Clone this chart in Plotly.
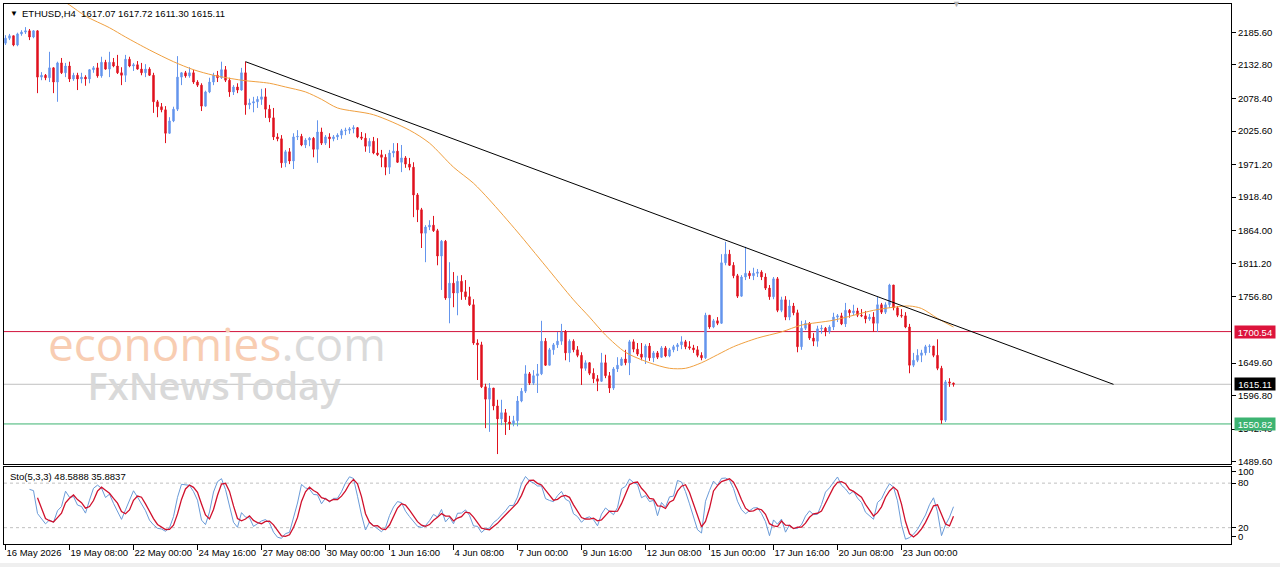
import pandas as pd
import plotly.graph_objects as go

# ---------------- data (ETHUSD H4) ----------------
first_open = 2168
close = [2176, 2180, 2165, 2183, 2186, 2188, 2178, 2188, 2113, 2116,
         2112, 2128, 2105, 2136, 2120, 2131, 2110, 2116, 2110, 2113,
         2110, 2125, 2128, 2115, 2137, 2126, 2137, 2131, 2120, 2116,
         2142, 2131, 2133, 2126, 2120, 2126, 2116, 2073, 2065, 2060,
         2022, 2042, 2061, 2113, 2120, 2115, 2120, 2105, 2100, 2066,
         2089, 2105, 2116, 2112, 2125, 2108, 2089, 2097, 2092, 2120,
         2068, 2071, 2073, 2077, 2081, 2061, 2047, 2016, 2013, 1974,
         1992, 1977, 2016, 2017, 2003, 2011, 2014, 1996, 2024, 2006,
         2016, 2013, 2016, 2019, 2026, 2027, 2029, 2031, 2016, 2014,
         2001, 2009, 1990, 1987, 1983, 1967, 1990, 1993, 1975, 1982,
         1972, 1967, 1922, 1898, 1860, 1870, 1873, 1864, 1823, 1847,
         1755, 1779, 1763, 1782, 1765, 1757, 1744, 1682, 1679, 1611,
         1591, 1609, 1580, 1559, 1569, 1554, 1551, 1556, 1588, 1604,
         1632, 1617, 1629, 1632, 1685, 1646, 1671, 1679, 1685, 1700,
         1666, 1685, 1671, 1662, 1641, 1650, 1633, 1624, 1620, 1650,
         1629, 1609, 1640, 1646, 1656, 1650, 1684, 1672, 1664, 1659,
         1677, 1658, 1666, 1659, 1674, 1661, 1671, 1676, 1679, 1684,
         1676, 1674, 1671, 1662, 1658, 1727, 1708, 1718, 1714, 1812,
         1826, 1808, 1791, 1758, 1789, 1795, 1791, 1795, 1797, 1789,
         1771, 1757, 1786, 1735, 1752, 1724, 1742, 1731, 1676, 1706,
         1714, 1690, 1685, 1705, 1706, 1701, 1708, 1724, 1726, 1713,
         1735, 1731, 1734, 1727, 1726, 1721, 1724, 1714, 1744, 1732,
         1744, 1776, 1739, 1727, 1726, 1708, 1646, 1654, 1662, 1666,
         1676, 1677, 1662, 1641, 1557, 1619, 1617.07, 1615.11]
high = [2181, 2183, 2180, 2185, 2189, 2194, 2191, 2189, 2189, 2121,
        2118, 2154, 2129, 2138, 2144, 2136, 2138, 2120, 2120, 2120,
        2116, 2126, 2131, 2136, 2146, 2141, 2154, 2144, 2149, 2129,
        2149, 2146, 2136, 2139, 2136, 2134, 2129, 2120, 2076, 2071,
        2066, 2048, 2065, 2147, 2121, 2123, 2129, 2125, 2108, 2103,
        2091, 2112, 2120, 2123, 2138, 2131, 2112, 2100, 2103, 2128,
        2138, 2078, 2081, 2082, 2094, 2095, 2068, 2063, 2022, 2019,
        1995, 1998, 2022, 2027, 2021, 2014, 2016, 2016, 2043, 2031,
        2019, 2022, 2019, 2022, 2029, 2031, 2032, 2035, 2032, 2024,
        2022, 2014, 2016, 2014, 1995, 1988, 1995, 2006, 2006, 2003,
        1985, 1982, 1975, 1925, 1901, 1873, 1881, 1888, 1867, 1849,
        1849, 1813, 1797, 1791, 1792, 1784, 1773, 1753, 1688, 1684,
        1616, 1617, 1607, 1590, 1590, 1575, 1564, 1564, 1596, 1609,
        1646, 1635, 1638, 1648, 1718, 1690, 1674, 1682, 1700, 1713,
        1703, 1688, 1688, 1677, 1667, 1654, 1651, 1641, 1630, 1666,
        1663, 1635, 1643, 1659, 1659, 1671, 1687, 1688, 1682, 1682,
        1680, 1682, 1669, 1669, 1677, 1677, 1674, 1679, 1682, 1693,
        1687, 1685, 1679, 1677, 1667, 1731, 1727, 1721, 1724, 1826,
        1846, 1833, 1813, 1794, 1792, 1838, 1799, 1804, 1802, 1800,
        1795, 1776, 1789, 1789, 1757, 1758, 1752, 1747, 1736, 1718,
        1719, 1716, 1698, 1710, 1711, 1708, 1711, 1731, 1729, 1731,
        1747, 1737, 1744, 1739, 1737, 1734, 1729, 1732, 1757, 1747,
        1748, 1778, 1776, 1742, 1737, 1732, 1713, 1666, 1672, 1671,
        1679, 1680, 1677, 1688, 1645, 1622, 1625, 1617.72]
low = [2165, 2173, 2163, 2163, 2180, 2183, 2173, 2176, 2087, 2108,
       2108, 2105, 2087, 2073, 2118, 2113, 2105, 2107, 2092, 2103,
       2099, 2103, 2120, 2112, 2112, 2125, 2113, 2129, 2118, 2100,
       2105, 2129, 2123, 2125, 2116, 2113, 2115, 2055, 2048, 2056,
       2006, 2021, 2040, 2058, 2100, 2112, 2112, 2102, 2097, 2058,
       2065, 2087, 2100, 2105, 2110, 2105, 2081, 2084, 2087, 2091,
       2052, 2061, 2056, 2063, 2068, 2047, 2040, 2011, 2009, 1966,
       1967, 1972, 1964, 2011, 2001, 1998, 2001, 1983, 1974, 2003,
       2003, 1998, 2009, 2011, 2013, 2019, 2021, 2022, 2014, 2011,
       1992, 1990, 1988, 1985, 1967, 1954, 1956, 1983, 1974, 1959,
       1966, 1962, 1886, 1878, 1836, 1813, 1865, 1862, 1808, 1768,
       1752, 1714, 1740, 1727, 1752, 1752, 1742, 1679, 1622, 1609,
       1544, 1538, 1573, 1502, 1549, 1533, 1541, 1547, 1547, 1586,
       1601, 1614, 1614, 1601, 1630, 1645, 1646, 1663, 1674, 1679,
       1654, 1651, 1667, 1659, 1614, 1637, 1630, 1617, 1604, 1619,
       1625, 1601, 1606, 1635, 1645, 1646, 1630, 1667, 1661, 1654,
       1648, 1653, 1651, 1656, 1658, 1659, 1659, 1667, 1669, 1672,
       1672, 1671, 1666, 1659, 1654, 1656, 1705, 1706, 1711, 1713,
       1808, 1807, 1787, 1755, 1757, 1784, 1786, 1784, 1789, 1784,
       1768, 1752, 1753, 1732, 1732, 1719, 1719, 1727, 1667, 1671,
       1703, 1687, 1677, 1676, 1697, 1693, 1697, 1703, 1716, 1711,
       1708, 1723, 1727, 1724, 1724, 1714, 1718, 1700, 1700, 1729,
       1729, 1739, 1735, 1724, 1723, 1706, 1633, 1643, 1651, 1651,
       1662, 1666, 1659, 1638, 1551, 1554, 1611, 1611.30]

# moving average (orange) read at sampled bars
ma_bars = [12, 16, 20, 26, 30, 36, 42, 47, 52, 59, 66, 70, 75, 79, 83, 92, 101, 106,
           112, 117, 121, 128, 135, 142, 146, 150, 155, 161, 166, 170, 174, 178, 182,
           188, 194, 199, 207, 217, 222, 226, 229, 233, 237]
ma_vals = [2246, 2230, 2212, 2193, 2178, 2157, 2138, 2125, 2116, 2108, 2103, 2097, 2089,
           2077, 2063, 2052, 2027, 2006, 1967, 1941, 1914, 1862, 1807, 1752, 1724, 1695,
           1667, 1650, 1641, 1641, 1650, 1663, 1676, 1690, 1700, 1711, 1719, 1735, 1740,
           1742, 1738, 1722, 1708]

# trend line anchors (bar index, price)
trend_bars = [60, 277]
trend_prices = [2138, 1615]

# horizontal levels
level_resist = 1700.54
level_bid = 1615.11
level_support = 1550.82

price_ticks = [2185.6, 2132.8, 2078.4, 2025.6, 1971.2, 1918.4, 1864.0, 1811.2,
               1756.8, 1649.6, 1596.8, 1542.4, 1489.6]
time_tick_bars = [0, 16, 32, 48, 64, 80, 96, 112, 128, 144, 160, 176, 192, 208, 224]
time_tick_labels = ["16 May 2026", "19 May 08:00", "22 May 00:00", "24 May 16:00",
                    "27 May 08:00", "30 May 00:00", "1 Jun 16:00", "4 Jun 08:00",
                    "7 Jun 00:00", "9 Jun 16:00", "12 Jun 08:00", "15 Jun 00:00",
                    "17 Jun 16:00", "20 Jun 08:00", "23 Jun 00:00"]
sto_labels = ["100", "80", "20", "0"]
sto_label_levels = [95.5, 80, 20, 7.5]   # where the terminal prints the scale labels

# ---------------- derived ----------------
n = len(close)
open_ = [first_open] + close[:-1]
high = [max(h, o, c) for h, o, c in zip(high, open_, close)]
low = [min(l, o, c) for l, o, c in zip(low, open_, close)]
bar = pd.Timedelta(hours=4)
t0 = pd.Timestamp("2026-05-16 16:00")
times = [t0 + i * bar for i in range(n)]

df = pd.DataFrame({"h": high, "l": low, "c": close})
ll = df.l.rolling(5).min()
hh = df.h.rolling(5).max()
k_line = 100 * (df.c - ll).rolling(3).sum() / (hh - ll).rolling(3).sum()
d_line = k_line.rolling(3).mean()

# ---------------- layout geometry ----------------
W, H = 1280, 567
L, R, T, B = 4, 49, 4, 23
PW, PH = W - L - R, H - T - B


def fx(px):
    return (px - L) / PW


def fy(py):
    return (H - B - py) / PH


FONT = "Liberation Sans"
BLUE = "#6495ED"
RED = "#E0121E"

fig = go.Figure()
fig.add_trace(go.Candlestick(
    x=times, open=open_, high=high, low=low, close=close,
    increasing=dict(line=dict(color=BLUE, width=1), fillcolor=BLUE),
    decreasing=dict(line=dict(color=RED, width=1), fillcolor=RED),
    whiskerwidth=0, showlegend=False, hoverinfo="skip",
    xaxis="x", yaxis="y"))
fig.add_trace(go.Scatter(
    x=[t0 + i * bar for i in ma_bars], y=ma_vals, mode="lines",
    line=dict(color="#F0A040", width=1, shape="spline", smoothing=0.8),
    showlegend=False, hoverinfo="skip", xaxis="x", yaxis="y"))
fig.add_trace(go.Scatter(
    x=times, y=k_line, mode="lines", line=dict(color="#6A9BD8", width=1),
    showlegend=False, hoverinfo="skip", xaxis="x2", yaxis="y2"))
fig.add_trace(go.Scatter(
    x=times, y=d_line, mode="lines", line=dict(color="#D0102C", width=1.3),
    showlegend=False, hoverinfo="skip", xaxis="x2", yaxis="y2"))

x_range = [t0 - 0.375 * bar, t0 + 306.375 * bar]
axis_common = dict(showgrid=False, zeroline=False, showline=True, mirror=True,
                   linecolor="black", linewidth=1, automargin=False)

shapes = [
    dict(type="line", xref="paper", x0=0, x1=1, yref="y", y0=level_resist, y1=level_resist,
         line=dict(color="#D2143C", width=1), layer="below"),
    dict(type="line", xref="paper", x0=0, x1=1, yref="y", y0=level_bid, y1=level_bid,
         line=dict(color="#C0C0C0", width=1), layer="below"),
    dict(type="line", xref="paper", x0=0, x1=1, yref="y", y0=level_support, y1=level_support,
         line=dict(color="#3CB371", width=1), layer="below"),
    dict(type="line", xref="x", yref="y",
         x0=t0 + trend_bars[0] * bar, y0=trend_prices[0],
         x1=t0 + trend_bars[1] * bar, y1=trend_prices[1],
         line=dict(color="black", width=1)),
    dict(type="line", xref="paper", x0=0, x1=1, yref="y2", y0=80, y1=80,
         line=dict(color="#C0C0C0", width=1, dash="3px,3px"), layer="below"),
    dict(type="line", xref="paper", x0=0, x1=1, yref="y2", y0=20, y1=20,
         line=dict(color="#C0C0C0", width=1, dash="3px,3px"), layer="below"),
    dict(type="rect", xref="paper", yref="paper", x0=fx(0), x1=fx(W), y0=fy(563), y1=fy(567),
         line=dict(width=0), fillcolor="#EFEFEF"),
]

watermark = ("<span style='color:#F8CDB2;font-size:46px'>economies</span>"
             "<span style='color:#DADADA;font-size:46px'>.com</span><br>"
             "<span style='color:#D9D9D9;font-size:38px;font-weight:600'>"
             "&nbsp;&nbsp;&nbsp;&nbsp;FxNewsToday</span>")

annotations = [
    dict(xref="paper", yref="paper", x=fx(8), y=fy(13), xanchor="left", yanchor="middle",
         text="▼", showarrow=False, font=dict(family=FONT, size=8, color="black")),
    dict(xref="paper", yref="paper", x=fx(20), y=fy(13), xanchor="left", yanchor="middle",
         text="ETHUSD,H4  1617.07 1617.72 1611.30 1615.11", showarrow=False,
         font=dict(family=FONT, size=9.5, color="black")),
    dict(xref="paper", yref="paper", x=fx(8), y=fy(476), xanchor="left", yanchor="middle",
         text="Sto(5,3,3) 48.5888 35.8837", showarrow=False,
         font=dict(family=FONT, size=9.5, color="black")),
    dict(xref="paper", yref="paper", x=fx(956), y=fy(4), xanchor="center", yanchor="middle",
         text="▼", showarrow=False, font=dict(family=FONT, size=9, color="#B0B0B0")),
    # watermark (two lines, one text block)
    dict(xref="paper", yref="paper", x=fx(46), y=fy(361), xanchor="left", yanchor="middle",
         align="left", text=watermark, showarrow=False,
         font=dict(family="Open Sans", size=30, color="#D9D9D9")),
    # price boxes on axis
    dict(xref="paper", yref="y", x=1, y=level_resist, xanchor="left", yanchor="middle",
         xshift=3, text="1700.54", showarrow=False, bgcolor="#DC143C", width=40, height=12,
         borderpad=0, font=dict(family=FONT, size=9.5, color="white")),
    dict(xref="paper", yref="y", x=1, y=level_bid, xanchor="left", yanchor="middle",
         xshift=3, text="1615.11", showarrow=False, bgcolor="#000000", width=40, height=12,
         borderpad=0, font=dict(family=FONT, size=9.5, color="white")),
    dict(xref="paper", yref="y", x=1, y=level_support, xanchor="left", yanchor="middle",
         xshift=3, text="1550.82", showarrow=False, bgcolor="#3CB371", width=40, height=12,
         borderpad=0, font=dict(family=FONT, size=9.5, color="white")),
]

fig.update_layout(
    width=W, height=H, margin=dict(l=L, r=R, t=T, b=B, autoexpand=False),
    paper_bgcolor="white", plot_bgcolor="white",
    font=dict(family=FONT, size=9.5, color="black"),
    boxgap=0.5, showlegend=False, hovermode=False, dragmode=False,
    xaxis=dict(domain=[0, 1], anchor="y", type="date", range=x_range,
               showticklabels=False, ticks="", rangeslider=dict(visible=False),
               **axis_common),
    yaxis=dict(domain=[fy(464), 1], anchor="x", side="right", range=[1485.9, 2231.5],
               tickvals=price_ticks, ticktext=[f"{v:.2f}" for v in price_ticks],
               ticks="outside", ticklen=4, tickcolor="black", **axis_common),
    xaxis2=dict(domain=[0, 1], anchor="y2", type="date", matches="x",
                tickvals=[t0 + i * bar for i in time_tick_bars], ticktext=time_tick_labels,
                ticks="outside", ticklen=5, tickcolor="black", tickangle=0,
                ticklabelposition="outside right", **axis_common),
    yaxis2=dict(domain=[0, fy(466.5)], anchor="x2", side="right", range=[-2, 102.4],
                tickvals=sto_label_levels, ticktext=sto_labels,
                ticks="outside", ticklen=4, tickcolor="black", **axis_common),
    shapes=shapes, annotations=annotations,
)

fig.write_html("out.html", config={"displayModeBar": False})
